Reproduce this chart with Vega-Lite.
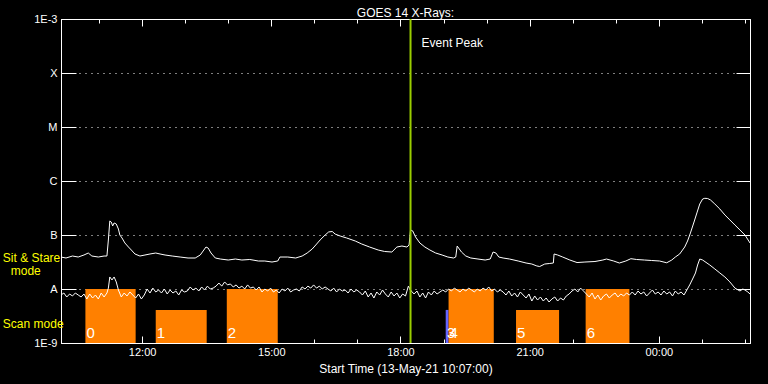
{
  "$schema": "https://vega.github.io/schema/vega-lite/v6.json",
  "width": 689,
  "height": 324,
  "autosize": "none",
  "padding": {"left": 61, "top": 19, "right": 18, "bottom": 41},
  "background": "black",
  "config": {
    "view": {"stroke": "white", "strokeWidth": 1},
    "font": "Liberation Sans",
    "axis": {
      "domainColor": "white", "tickColor": "white", "labelColor": "white", "titleColor": "white",
      "labelFont": "Liberation Sans", "titleFont": "Liberation Sans", "labelFontSize": 11,
      "titleFontSize": 12, "titleFontWeight": "normal", "domainWidth": 1, "tickWidth": 1, "grid": false
    }
  },
  "title": {"text": "GOES 14 X-Rays:", "color": "white", "fontSize": 12, "fontWeight": "normal", "font": "Liberation Sans", "offset": -7},
  "datasets": {
    "bars": [
      {"label": "0", "kind": "scan", "start": "2021-05-13T10:41", "end": "2021-05-13T11:51", "lo": 1e-9, "hi": 1e-8},
      {"label": "1", "kind": "scan", "start": "2021-05-13T12:19", "end": "2021-05-13T13:30", "lo": 1e-9, "hi": 4.1e-9},
      {"label": "2", "kind": "scan", "start": "2021-05-13T13:58", "end": "2021-05-13T15:09", "lo": 1e-9, "hi": 1e-8},
      {"label": "3", "kind": "other", "start": "2021-05-13T19:03", "end": "2021-05-13T19:07", "lo": 1e-9, "hi": 4.1e-9},
      {"label": "4", "kind": "scan", "start": "2021-05-13T19:07", "end": "2021-05-13T20:10", "lo": 1e-9, "hi": 1e-8},
      {"label": "5", "kind": "scan", "start": "2021-05-13T20:41", "end": "2021-05-13T21:41", "lo": 1e-9, "hi": 4.1e-9},
      {"label": "6", "kind": "scan", "start": "2021-05-13T22:18", "end": "2021-05-13T23:19", "lo": 1e-9, "hi": 1e-8}
    ],
    "long": [
      {"t":"2021-05-13T10:07","v":3.91e-8},{"t":"2021-05-13T10:14","v":3.75e-8},{"t":"2021-05-13T10:23","v":4.08e-8},{"t":"2021-05-13T10:31","v":3.91e-8},
      {"t":"2021-05-13T10:39","v":4.26e-8},{"t":"2021-05-13T10:45","v":4.64e-8},{"t":"2021-05-13T10:50","v":4.08e-8},{"t":"2021-05-13T10:59","v":3.91e-8},
      {"t":"2021-05-13T11:07","v":4.08e-8},{"t":"2021-05-13T11:11","v":4.08e-8},{"t":"2021-05-13T11:13","v":8.08e-8},{"t":"2021-05-13T11:15","v":1.82e-7},
      {"t":"2021-05-13T11:17","v":1.74e-7},{"t":"2021-05-13T11:19","v":1.47e-7},{"t":"2021-05-13T11:21","v":1.67e-7},{"t":"2021-05-13T11:24","v":1.60e-7},
      {"t":"2021-05-13T11:27","v":1.29e-7},{"t":"2021-05-13T11:29","v":1.0e-7},{"t":"2021-05-13T11:32","v":8.80e-8},{"t":"2021-05-13T11:36","v":7.11e-8},
      {"t":"2021-05-13T11:41","v":5.99e-8},{"t":"2021-05-13T11:45","v":5.27e-8},{"t":"2021-05-13T11:50","v":4.45e-8},{"t":"2021-05-13T11:57","v":4.08e-8},
      {"t":"2021-05-13T12:04","v":4.26e-8},{"t":"2021-05-13T12:11","v":4.45e-8},{"t":"2021-05-13T12:19","v":4.64e-8},{"t":"2021-05-13T12:25","v":4.45e-8},
      {"t":"2021-05-13T12:32","v":4.26e-8},{"t":"2021-05-13T12:42","v":4.08e-8},{"t":"2021-05-13T12:53","v":3.91e-8},{"t":"2021-05-13T13:04","v":3.75e-8},
      {"t":"2021-05-13T13:14","v":3.75e-8},{"t":"2021-05-13T13:21","v":4.26e-8},{"t":"2021-05-13T13:25","v":5.05e-8},{"t":"2021-05-13T13:29","v":5.99e-8},
      {"t":"2021-05-13T13:32","v":5.74e-8},{"t":"2021-05-13T13:36","v":4.64e-8},{"t":"2021-05-13T13:42","v":3.75e-8},{"t":"2021-05-13T13:49","v":3.59e-8},
      {"t":"2021-05-13T14:00","v":3.44e-8},{"t":"2021-05-13T14:10","v":3.59e-8},{"t":"2021-05-13T14:19","v":3.44e-8},{"t":"2021-05-13T14:30","v":3.52e-8},
      {"t":"2021-05-13T14:42","v":3.30e-8},{"t":"2021-05-13T14:51","v":3.30e-8},{"t":"2021-05-13T15:01","v":3.16e-8},{"t":"2021-05-13T15:09","v":3.30e-8},
      {"t":"2021-05-13T15:12","v":3.91e-8},{"t":"2021-05-13T15:23","v":3.91e-8},{"t":"2021-05-13T15:34","v":3.75e-8},{"t":"2021-05-13T15:43","v":4.08e-8},
      {"t":"2021-05-13T15:50","v":4.64e-8},{"t":"2021-05-13T15:57","v":5.50e-8},{"t":"2021-05-13T16:02","v":6.53e-8},{"t":"2021-05-13T16:08","v":8.08e-8},
      {"t":"2021-05-13T16:15","v":1.0e-7},{"t":"2021-05-13T16:20","v":1.14e-7},{"t":"2021-05-13T16:25","v":1.16e-7},{"t":"2021-05-13T16:29","v":1.04e-7},
      {"t":"2021-05-13T16:36","v":9.58e-8},{"t":"2021-05-13T16:45","v":8.80e-8},{"t":"2021-05-13T16:57","v":7.74e-8},{"t":"2021-05-13T17:06","v":6.81e-8},
      {"t":"2021-05-13T17:17","v":5.99e-8},{"t":"2021-05-13T17:29","v":5.27e-8},{"t":"2021-05-13T17:38","v":4.95e-8},{"t":"2021-05-13T17:48","v":4.84e-8},
      {"t":"2021-05-13T17:55","v":5.99e-8},{"t":"2021-05-13T18:02","v":6.25e-8},{"t":"2021-05-13T18:09","v":5.99e-8},{"t":"2021-05-13T18:12","v":6.53e-8},
      {"t":"2021-05-13T18:14","v":1.24e-7},{"t":"2021-05-13T18:17","v":1.19e-7},{"t":"2021-05-13T18:21","v":9.18e-8},{"t":"2021-05-13T18:27","v":7.11e-8},
      {"t":"2021-05-13T18:34","v":5.99e-8},{"t":"2021-05-13T18:41","v":5.27e-8},{"t":"2021-05-13T18:49","v":4.64e-8},{"t":"2021-05-13T18:58","v":4.26e-8},
      {"t":"2021-05-13T19:06","v":3.91e-8},{"t":"2021-05-13T19:14","v":3.75e-8},{"t":"2021-05-13T19:17","v":3.91e-8},{"t":"2021-05-13T19:19","v":6.25e-8},
      {"t":"2021-05-13T19:21","v":5.74e-8},{"t":"2021-05-13T19:25","v":4.84e-8},{"t":"2021-05-13T19:31","v":4.08e-8},{"t":"2021-05-13T19:38","v":3.75e-8},
      {"t":"2021-05-13T19:48","v":3.59e-8},{"t":"2021-05-13T19:58","v":3.44e-8},{"t":"2021-05-13T20:05","v":3.59e-8},{"t":"2021-05-13T20:09","v":4.84e-8},
      {"t":"2021-05-13T20:13","v":4.64e-8},{"t":"2021-05-13T20:17","v":3.91e-8},{"t":"2021-05-13T20:23","v":3.75e-8},{"t":"2021-05-13T20:32","v":3.59e-8},
      {"t":"2021-05-13T20:44","v":3.30e-8},{"t":"2021-05-13T20:55","v":3.03e-8},{"t":"2021-05-13T21:03","v":2.90e-8},{"t":"2021-05-13T21:10","v":2.67e-8},
      {"t":"2021-05-13T21:14","v":2.61e-8},{"t":"2021-05-13T21:21","v":2.90e-8},{"t":"2021-05-13T21:28","v":2.97e-8},{"t":"2021-05-13T21:33","v":3.03e-8},
      {"t":"2021-05-13T21:34","v":4.45e-8},{"t":"2021-05-13T21:39","v":4.26e-8},{"t":"2021-05-13T21:46","v":3.91e-8},{"t":"2021-05-13T21:56","v":3.44e-8},
      {"t":"2021-05-13T22:06","v":3.09e-8},{"t":"2021-05-13T22:17","v":3.16e-8},{"t":"2021-05-13T22:31","v":3.23e-8},{"t":"2021-05-13T22:42","v":3.44e-8},
      {"t":"2021-05-13T22:47","v":3.59e-8},{"t":"2021-05-13T22:57","v":3.30e-8},{"t":"2021-05-13T23:05","v":3.03e-8},{"t":"2021-05-13T23:14","v":3.30e-8},
      {"t":"2021-05-13T23:21","v":3.64e-8},{"t":"2021-05-13T23:29","v":3.52e-8},{"t":"2021-05-13T23:40","v":3.44e-8},{"t":"2021-05-13T23:50","v":3.37e-8},
      {"t":"2021-05-14T00:01","v":3.30e-8},{"t":"2021-05-14T00:11","v":3.06e-8},{"t":"2021-05-14T00:18","v":3.44e-8},{"t":"2021-05-14T00:23","v":3.91e-8},
      {"t":"2021-05-14T00:29","v":4.45e-8},{"t":"2021-05-14T00:36","v":5.99e-8},{"t":"2021-05-14T00:40","v":7.74e-8},{"t":"2021-05-14T00:44","v":1.09e-7},
      {"t":"2021-05-14T00:49","v":1.74e-7},{"t":"2021-05-14T00:53","v":2.56e-7},{"t":"2021-05-14T00:57","v":3.75e-7},{"t":"2021-05-14T01:01","v":4.64e-7},
      {"t":"2021-05-14T01:04","v":4.78e-7},{"t":"2021-05-14T01:08","v":4.74e-7},{"t":"2021-05-14T01:12","v":4.45e-7},{"t":"2021-05-14T01:18","v":3.75e-7},
      {"t":"2021-05-14T01:25","v":3.03e-7},{"t":"2021-05-14T01:32","v":2.35e-7},{"t":"2021-05-14T01:39","v":1.90e-7},{"t":"2021-05-14T01:46","v":1.53e-7},
      {"t":"2021-05-14T01:53","v":1.24e-7},{"t":"2021-05-14T02:00","v":1.0e-7},{"t":"2021-05-14T02:07","v":7.11e-8}
    ],
    "short": [
      {"t":"2021-05-13T10:07","v":7.74e-9},{"t":"2021-05-13T10:11","v":8.43e-9},{"t":"2021-05-13T10:15","v":7.11e-9},{"t":"2021-05-13T10:19","v":8.08e-9},
      {"t":"2021-05-13T10:23","v":7.42e-9},{"t":"2021-05-13T10:27","v":8.43e-9},{"t":"2021-05-13T10:31","v":7.74e-9},{"t":"2021-05-13T10:35","v":7.11e-9},
      {"t":"2021-05-13T10:39","v":8.08e-9},{"t":"2021-05-13T10:43","v":6.53e-9},{"t":"2021-05-13T10:47","v":8.08e-9},{"t":"2021-05-13T10:51","v":6.81e-9},
      {"t":"2021-05-13T10:55","v":7.74e-9},{"t":"2021-05-13T10:59","v":6.53e-9},{"t":"2021-05-13T11:03","v":8.43e-9},{"t":"2021-05-13T11:07","v":7.11e-9},
      {"t":"2021-05-13T11:11","v":8.43e-9},{"t":"2021-05-13T11:13","v":1.04e-8},{"t":"2021-05-13T11:15","v":1.67e-8},{"t":"2021-05-13T11:18","v":1.47e-8},
      {"t":"2021-05-13T11:21","v":1.67e-8},{"t":"2021-05-13T11:24","v":1.35e-8},{"t":"2021-05-13T11:27","v":9.58e-9},{"t":"2021-05-13T11:31","v":7.11e-9},
      {"t":"2021-05-13T11:35","v":8.43e-9},{"t":"2021-05-13T11:39","v":7.42e-9},{"t":"2021-05-13T11:43","v":8.80e-9},{"t":"2021-05-13T11:47","v":7.74e-9},
      {"t":"2021-05-13T11:51","v":6.81e-9},{"t":"2021-05-13T11:55","v":8.08e-9},{"t":"2021-05-13T11:59","v":6.53e-9},{"t":"2021-05-13T12:03","v":7.74e-9},
      {"t":"2021-05-13T12:07","v":1.0e-8},{"t":"2021-05-13T12:11","v":8.43e-9},{"t":"2021-05-13T12:15","v":1.04e-8},{"t":"2021-05-13T12:19","v":8.80e-9},
      {"t":"2021-05-13T12:23","v":9.58e-9},{"t":"2021-05-13T12:27","v":8.43e-9},{"t":"2021-05-13T12:31","v":1.0e-8},{"t":"2021-05-13T12:35","v":8.08e-9},
      {"t":"2021-05-13T12:39","v":9.58e-9},{"t":"2021-05-13T12:43","v":8.43e-9},{"t":"2021-05-13T12:47","v":9.18e-9},{"t":"2021-05-13T12:51","v":7.74e-9},
      {"t":"2021-05-13T12:55","v":9.58e-9},{"t":"2021-05-13T12:59","v":8.80e-9},{"t":"2021-05-13T13:03","v":9.18e-9},{"t":"2021-05-13T13:07","v":1.09e-8},
      {"t":"2021-05-13T13:11","v":9.58e-9},{"t":"2021-05-13T13:15","v":1.04e-8},{"t":"2021-05-13T13:19","v":9.18e-9},{"t":"2021-05-13T13:23","v":1.09e-8},
      {"t":"2021-05-13T13:27","v":9.58e-9},{"t":"2021-05-13T13:31","v":1.13e-8},{"t":"2021-05-13T13:35","v":1.0e-8},{"t":"2021-05-13T13:39","v":1.04e-8},
      {"t":"2021-05-13T13:43","v":1.13e-8},{"t":"2021-05-13T13:47","v":1.29e-8},{"t":"2021-05-13T13:51","v":1.13e-8},{"t":"2021-05-13T13:55","v":1.35e-8},
      {"t":"2021-05-13T13:59","v":1.19e-8},{"t":"2021-05-13T14:03","v":1.24e-8},{"t":"2021-05-13T14:07","v":1.09e-8},{"t":"2021-05-13T14:11","v":1.19e-8},
      {"t":"2021-05-13T14:15","v":1.04e-8},{"t":"2021-05-13T14:19","v":1.13e-8},{"t":"2021-05-13T14:23","v":1.0e-8},{"t":"2021-05-13T14:27","v":1.19e-8},
      {"t":"2021-05-13T14:31","v":1.04e-8},{"t":"2021-05-13T14:35","v":1.09e-8},{"t":"2021-05-13T14:39","v":9.58e-9},{"t":"2021-05-13T14:43","v":1.09e-8},
      {"t":"2021-05-13T14:47","v":8.80e-9},{"t":"2021-05-13T14:51","v":1.0e-8},{"t":"2021-05-13T14:55","v":9.18e-9},{"t":"2021-05-13T14:59","v":1.04e-8},
      {"t":"2021-05-13T15:03","v":8.80e-9},{"t":"2021-05-13T15:07","v":9.58e-9},{"t":"2021-05-13T15:11","v":8.43e-9},{"t":"2021-05-13T15:15","v":1.0e-8},
      {"t":"2021-05-13T15:19","v":9.18e-9},{"t":"2021-05-13T15:23","v":1.04e-8},{"t":"2021-05-13T15:27","v":8.80e-9},{"t":"2021-05-13T15:31","v":9.58e-9},
      {"t":"2021-05-13T15:35","v":1.0e-8},{"t":"2021-05-13T15:39","v":9.18e-9},{"t":"2021-05-13T15:43","v":1.09e-8},{"t":"2021-05-13T15:47","v":1.0e-8},
      {"t":"2021-05-13T15:51","v":1.13e-8},{"t":"2021-05-13T15:55","v":1.04e-8},{"t":"2021-05-13T15:59","v":1.19e-8},{"t":"2021-05-13T16:03","v":1.04e-8},
      {"t":"2021-05-13T16:07","v":1.13e-8},{"t":"2021-05-13T16:11","v":1.0e-8},{"t":"2021-05-13T16:15","v":1.09e-8},{"t":"2021-05-13T16:19","v":1.0e-8},
      {"t":"2021-05-13T16:23","v":9.18e-9},{"t":"2021-05-13T16:27","v":1.04e-8},{"t":"2021-05-13T16:31","v":8.80e-9},{"t":"2021-05-13T16:35","v":1.0e-8},
      {"t":"2021-05-13T16:39","v":9.18e-9},{"t":"2021-05-13T16:43","v":9.58e-9},{"t":"2021-05-13T16:47","v":8.43e-9},{"t":"2021-05-13T16:51","v":1.0e-8},
      {"t":"2021-05-13T16:55","v":8.80e-9},{"t":"2021-05-13T16:59","v":9.58e-9},{"t":"2021-05-13T17:03","v":8.80e-9},{"t":"2021-05-13T17:07","v":7.74e-9},
      {"t":"2021-05-13T17:11","v":9.18e-9},{"t":"2021-05-13T17:15","v":7.11e-9},{"t":"2021-05-13T17:19","v":8.43e-9},{"t":"2021-05-13T17:23","v":6.81e-9},
      {"t":"2021-05-13T17:27","v":8.80e-9},{"t":"2021-05-13T17:31","v":7.74e-9},{"t":"2021-05-13T17:35","v":9.58e-9},{"t":"2021-05-13T17:39","v":8.08e-9},
      {"t":"2021-05-13T17:43","v":7.11e-9},{"t":"2021-05-13T17:47","v":8.80e-9},{"t":"2021-05-13T17:51","v":7.42e-9},{"t":"2021-05-13T17:55","v":8.43e-9},
      {"t":"2021-05-13T17:59","v":6.81e-9},{"t":"2021-05-13T18:03","v":8.08e-9},{"t":"2021-05-13T18:07","v":7.42e-9},{"t":"2021-05-13T18:11","v":1.13e-8},
      {"t":"2021-05-13T18:15","v":9.18e-9},{"t":"2021-05-13T18:19","v":8.08e-9},{"t":"2021-05-13T18:23","v":9.18e-9},{"t":"2021-05-13T18:27","v":7.11e-9},
      {"t":"2021-05-13T18:31","v":8.43e-9},{"t":"2021-05-13T18:35","v":6.81e-9},{"t":"2021-05-13T18:39","v":8.80e-9},{"t":"2021-05-13T18:43","v":7.74e-9},
      {"t":"2021-05-13T18:47","v":9.18e-9},{"t":"2021-05-13T18:51","v":8.08e-9},{"t":"2021-05-13T18:55","v":8.80e-9},{"t":"2021-05-13T18:59","v":9.58e-9},
      {"t":"2021-05-13T19:03","v":8.80e-9},{"t":"2021-05-13T19:07","v":1.0e-8},{"t":"2021-05-13T19:11","v":9.18e-9},{"t":"2021-05-13T19:15","v":1.04e-8},
      {"t":"2021-05-13T19:19","v":9.58e-9},{"t":"2021-05-13T19:23","v":8.80e-9},{"t":"2021-05-13T19:27","v":1.0e-8},{"t":"2021-05-13T19:31","v":9.18e-9},
      {"t":"2021-05-13T19:35","v":1.04e-8},{"t":"2021-05-13T19:39","v":9.58e-9},{"t":"2021-05-13T19:43","v":8.80e-9},{"t":"2021-05-13T19:47","v":1.0e-8},
      {"t":"2021-05-13T19:51","v":9.18e-9},{"t":"2021-05-13T19:55","v":1.04e-8},{"t":"2021-05-13T19:59","v":9.58e-9},{"t":"2021-05-13T20:03","v":1.09e-8},
      {"t":"2021-05-13T20:07","v":9.18e-9},{"t":"2021-05-13T20:11","v":1.0e-8},{"t":"2021-05-13T20:15","v":8.80e-9},{"t":"2021-05-13T20:19","v":9.58e-9},
      {"t":"2021-05-13T20:23","v":8.80e-9},{"t":"2021-05-13T20:27","v":7.74e-9},{"t":"2021-05-13T20:31","v":9.18e-9},{"t":"2021-05-13T20:35","v":7.42e-9},
      {"t":"2021-05-13T20:39","v":8.43e-9},{"t":"2021-05-13T20:43","v":7.11e-9},{"t":"2021-05-13T20:47","v":8.80e-9},{"t":"2021-05-13T20:51","v":7.74e-9},
      {"t":"2021-05-13T20:55","v":6.81e-9},{"t":"2021-05-13T20:59","v":8.08e-9},{"t":"2021-05-13T21:03","v":5.99e-9},{"t":"2021-05-13T21:07","v":7.42e-9},
      {"t":"2021-05-13T21:11","v":6.25e-9},{"t":"2021-05-13T21:15","v":7.11e-9},{"t":"2021-05-13T21:19","v":5.99e-9},{"t":"2021-05-13T21:23","v":6.81e-9},
      {"t":"2021-05-13T21:27","v":5.74e-9},{"t":"2021-05-13T21:31","v":6.53e-9},{"t":"2021-05-13T21:35","v":7.11e-9},{"t":"2021-05-13T21:39","v":5.99e-9},
      {"t":"2021-05-13T21:43","v":6.81e-9},{"t":"2021-05-13T21:47","v":6.25e-9},{"t":"2021-05-13T21:51","v":7.42e-9},{"t":"2021-05-13T21:55","v":8.08e-9},
      {"t":"2021-05-13T21:59","v":9.18e-9},{"t":"2021-05-13T22:03","v":1.0e-8},{"t":"2021-05-13T22:07","v":8.80e-9},{"t":"2021-05-13T22:11","v":1.04e-8},
      {"t":"2021-05-13T22:15","v":9.18e-9},{"t":"2021-05-13T22:19","v":8.08e-9},{"t":"2021-05-13T22:23","v":7.11e-9},{"t":"2021-05-13T22:27","v":8.43e-9},
      {"t":"2021-05-13T22:31","v":6.53e-9},{"t":"2021-05-13T22:35","v":7.74e-9},{"t":"2021-05-13T22:39","v":6.25e-9},{"t":"2021-05-13T22:43","v":7.42e-9},
      {"t":"2021-05-13T22:47","v":8.08e-9},{"t":"2021-05-13T22:51","v":6.81e-9},{"t":"2021-05-13T22:55","v":7.74e-9},{"t":"2021-05-13T22:59","v":8.43e-9},
      {"t":"2021-05-13T23:03","v":7.11e-9},{"t":"2021-05-13T23:07","v":8.08e-9},{"t":"2021-05-13T23:11","v":7.42e-9},{"t":"2021-05-13T23:15","v":8.43e-9},
      {"t":"2021-05-13T23:19","v":7.74e-9},{"t":"2021-05-13T23:23","v":8.80e-9},{"t":"2021-05-13T23:27","v":7.74e-9},{"t":"2021-05-13T23:31","v":9.18e-9},
      {"t":"2021-05-13T23:35","v":8.08e-9},{"t":"2021-05-13T23:39","v":8.80e-9},{"t":"2021-05-13T23:43","v":7.42e-9},{"t":"2021-05-13T23:47","v":8.43e-9},
      {"t":"2021-05-13T23:51","v":9.58e-9},{"t":"2021-05-13T23:55","v":8.08e-9},{"t":"2021-05-13T23:59","v":8.80e-9},{"t":"2021-05-14T00:03","v":7.74e-9},
      {"t":"2021-05-14T00:07","v":9.18e-9},{"t":"2021-05-14T00:11","v":8.08e-9},{"t":"2021-05-14T00:15","v":8.80e-9},{"t":"2021-05-14T00:19","v":7.42e-9},
      {"t":"2021-05-14T00:23","v":9.18e-9},{"t":"2021-05-14T00:27","v":8.08e-9},{"t":"2021-05-14T00:31","v":8.80e-9},{"t":"2021-05-14T00:35","v":7.74e-9},
      {"t":"2021-05-14T00:39","v":9.58e-9},{"t":"2021-05-14T00:43","v":1.19e-8},{"t":"2021-05-14T00:47","v":1.53e-8},{"t":"2021-05-14T00:51","v":1.98e-8},
      {"t":"2021-05-14T00:54","v":2.78e-8},{"t":"2021-05-14T00:57","v":3.59e-8},{"t":"2021-05-14T01:01","v":3.44e-8},{"t":"2021-05-14T01:11","v":2.78e-8},
      {"t":"2021-05-14T01:18","v":2.35e-8},{"t":"2021-05-14T01:25","v":1.98e-8},{"t":"2021-05-14T01:32","v":1.67e-8},{"t":"2021-05-14T01:39","v":1.35e-8},
      {"t":"2021-05-14T01:46","v":1.04e-8},{"t":"2021-05-14T01:53","v":9.18e-9},{"t":"2021-05-14T01:57","v":1.0e-8},{"t":"2021-05-14T02:00","v":9.58e-9},
      {"t":"2021-05-14T02:04","v":8.80e-9},{"t":"2021-05-14T02:07","v":8.08e-9}
    ],
    "event": [{"t": "2021-05-13T18:14", "label": "Event Peak"}],
    "modes": [
      {"text": "Sit & Stare", "t": "2021-05-13T08:46", "v": 3.75e-8},
      {"text": "mode", "t": "2021-05-13T08:57", "v": 2.15e-8},
      {"text": "Scan mode", "t": "2021-05-13T08:46", "v": 2.25e-9}
    ]
  },
  "resolve": {"axis": {"x": "independent", "y": "independent"}},
  "layer": [
    {
      "data": {"name": "bars"},
      "mark": {"type": "rect"},
      "encoding": {
        "x": {
          "field": "start", "type": "temporal",
          "scale": {"domain": [{"year": 2021, "month": 5, "date": 13, "hours": 10, "minutes": 7}, {"year": 2021, "month": 5, "date": 14, "hours": 2, "minutes": 7}]},
          "axis": {
            "orient": "bottom",
            "values": [
              {"year": 2021, "month": 5, "date": 13, "hours": 11}, {"year": 2021, "month": 5, "date": 13, "hours": 12},
              {"year": 2021, "month": 5, "date": 13, "hours": 13}, {"year": 2021, "month": 5, "date": 13, "hours": 14},
              {"year": 2021, "month": 5, "date": 13, "hours": 15}, {"year": 2021, "month": 5, "date": 13, "hours": 16},
              {"year": 2021, "month": 5, "date": 13, "hours": 17}, {"year": 2021, "month": 5, "date": 13, "hours": 18},
              {"year": 2021, "month": 5, "date": 13, "hours": 19}, {"year": 2021, "month": 5, "date": 13, "hours": 20},
              {"year": 2021, "month": 5, "date": 13, "hours": 21}, {"year": 2021, "month": 5, "date": 13, "hours": 22},
              {"year": 2021, "month": 5, "date": 13, "hours": 23}, {"year": 2021, "month": 5, "date": 14, "hours": 0},
              {"year": 2021, "month": 5, "date": 14, "hours": 1}, {"year": 2021, "month": 5, "date": 14, "hours": 2}
            ],
            "labelExpr": "hours(datum.value) % 3 == 0 ? timeFormat(datum.value, '%H:%M') : ''",
            "tickSize": {"condition": {"test": "hours(datum.value) % 3 == 0", "value": -7}, "value": -4},
            "labelPadding": 10,
            "labelFlush": false,
            "labelOverlap": false,
            "title": "Start Time (13-May-21 10:07:00)",
            "titlePadding": 3
          }
        },
        "x2": {"field": "end"},
        "y": {
          "field": "lo", "type": "quantitative",
          "scale": {"type": "log", "domain": [1e-9, 1e-3], "nice": false},
          "axis": {
            "orient": "left",
            "values": [1e-9, 1e-8, 1e-7, 1e-6, 1e-5, 1e-4, 1e-3],
            "labelExpr": "datum.value > 5e-4 ? '1E-3' : datum.value > 5e-5 ? 'X' : datum.value > 5e-6 ? 'M' : datum.value > 5e-7 ? 'C' : datum.value > 5e-8 ? 'B' : datum.value > 5e-9 ? 'A' : '1E-9'",
            "tickSize": -15,
            "labelPadding": 19,
            "grid": true, "gridColor": "white", "gridDash": [1, 5], "gridWidth": 1, "gridOpacity": 1,
            "title": null
          }
        },
        "y2": {"field": "hi"},
        "color": {"field": "kind", "type": "nominal", "scale": {"domain": ["scan", "other"], "range": ["#ff8000", "#6464ff"]}, "legend": null}
      }
    },
    {
      "data": {"name": "short"},
      "mark": {"type": "line", "color": "white", "strokeWidth": 1},
      "encoding": {
        "x": {"field": "t", "type": "temporal", "axis": null},
        "y": {"field": "v", "type": "quantitative", "axis": null}
      }
    },
    {
      "data": {"name": "long"},
      "mark": {"type": "line", "color": "white", "strokeWidth": 1},
      "encoding": {
        "x": {
          "field": "t", "type": "temporal",
          "axis": {
            "orient": "top",
            "values": [
              {"year": 2021, "month": 5, "date": 13, "hours": 11}, {"year": 2021, "month": 5, "date": 13, "hours": 12},
              {"year": 2021, "month": 5, "date": 13, "hours": 13}, {"year": 2021, "month": 5, "date": 13, "hours": 14},
              {"year": 2021, "month": 5, "date": 13, "hours": 15}, {"year": 2021, "month": 5, "date": 13, "hours": 16},
              {"year": 2021, "month": 5, "date": 13, "hours": 17}, {"year": 2021, "month": 5, "date": 13, "hours": 18},
              {"year": 2021, "month": 5, "date": 13, "hours": 19}, {"year": 2021, "month": 5, "date": 13, "hours": 20},
              {"year": 2021, "month": 5, "date": 13, "hours": 21}, {"year": 2021, "month": 5, "date": 13, "hours": 22},
              {"year": 2021, "month": 5, "date": 13, "hours": 23}, {"year": 2021, "month": 5, "date": 14, "hours": 0},
              {"year": 2021, "month": 5, "date": 14, "hours": 1}, {"year": 2021, "month": 5, "date": 14, "hours": 2}
            ],
            "labels": false,
            "tickSize": {"condition": {"test": "hours(datum.value) % 3 == 0", "value": -7}, "value": -4},
            "title": null
          }
        },
        "y": {
          "field": "v", "type": "quantitative",
          "axis": {"orient": "right", "values": [1e-9, 1e-8, 1e-7, 1e-6, 1e-5, 1e-4, 1e-3], "labels": false, "tickSize": -14, "title": null}
        }
      }
    },
    {
      "data": {"name": "event"},
      "mark": {"type": "rule", "color": "#9acd00", "strokeWidth": 2},
      "encoding": {"x": {"field": "t", "type": "temporal", "axis": null}}
    },
    {
      "data": {"name": "event"},
      "mark": {"type": "text", "color": "white", "fontSize": 12, "font": "Liberation Sans", "align": "left", "baseline": "middle", "dx": 11},
      "encoding": {
        "x": {"field": "t", "type": "temporal", "axis": null},
        "y": {"datum": 3.6e-4, "type": "quantitative", "axis": null},
        "text": {"field": "label"}
      }
    },
    {
      "data": {"name": "bars"},
      "mark": {"type": "text", "color": "white", "fontSize": 15, "font": "Liberation Sans", "align": "left", "baseline": "alphabetic", "dx": 1},
      "encoding": {
        "x": {"field": "start", "type": "temporal", "axis": null},
        "y": {"datum": 1.24e-9, "type": "quantitative", "axis": null},
        "text": {"field": "label"}
      }
    },
    {
      "data": {"name": "modes"},
      "mark": {"type": "text", "color": "#ffff00", "fontSize": 12, "font": "Liberation Sans", "align": "left", "baseline": "middle"},
      "encoding": {
        "x": {"field": "t", "type": "temporal", "axis": null},
        "y": {"field": "v", "type": "quantitative", "axis": null},
        "text": {"field": "text"}
      }
    }
  ]
}
